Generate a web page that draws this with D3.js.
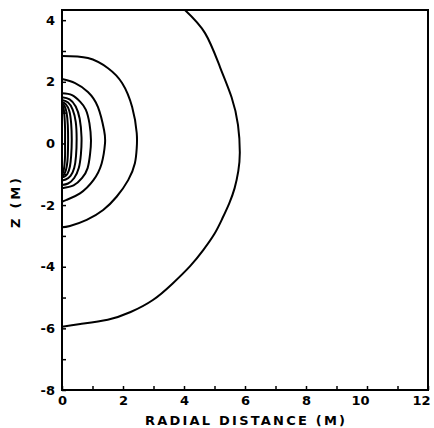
<!DOCTYPE html>
<html>
<head>
<meta charset="utf-8">
<script src="https://cdn.jsdelivr.net/npm/d3@7"></script>
<style>
  body { margin: 0; background: #fff; }
  text { font-family: "DejaVu Sans", sans-serif; font-weight: bold; fill: #000; }
</style>
</head>
<body>
<div id="chart"></div>
<script>
// Contour plot: radial distance vs Z, axisymmetric field lines

// Tick values
const xTicks = [0, 1, 2, 3, 4, 5, 6, 7, 8, 9, 10, 11, 12];
const yTicks = [-8, -7, -6, -5, -4, -3, -2, -1, 0, 1, 2, 3, 4];

// Contours, each as [r, z] points
const contourOuter = [[4.03, 4.33], [4.69, 3.58], [5.18, 2.48], [5.56, 1.5], [5.77, 0.6],
  [5.83, -0.3], [5.78, -0.9], [5.66, -1.45], [5.48, -1.95], [5.25, -2.45], [5.0, -2.93],
  [4.63, -3.46], [4.2, -3.98], [3.62, -4.55], [2.98, -5.08], [2.25, -5.47], [1.5, -5.72],
  [0.6, -5.86], [0, -5.95]];
const contour2 = [[0, 2.84], [0.85, 2.77], [1.51, 2.44], [1.97, 1.96], [2.30, 1.18], [2.45, 0.34],
  [2.45, -0.15], [2.39, -0.64], [2.17, -1.19], [1.79, -1.73], [1.35, -2.16], [0.81, -2.48],
  [0.26, -2.68], [0, -2.72]];
const contour3 = [[0, 2.09], [0.43, 1.96], [0.85, 1.67], [1.18, 1.18], [1.38, 0.43], [1.41, 0.0],
  [1.30, -0.65], [1.03, -1.19], [0.59, -1.62], [0.15, -1.83], [0, -1.9]];
const contour4 = [[0, 1.63], [0.33, 1.57], [0.6, 1.35], [0.78, 1.1], [0.9, 0.65], [0.95, 0.1],
  [0.92, -0.35], [0.84, -0.8], [0.66, -1.12], [0.38, -1.36], [0, -1.45]];
const contour5 = [[0, 1.5], [0.25, 1.43], [0.45, 1.2], [0.58, 0.8], [0.64, 0.2], [0.62, -0.35],
  [0.55, -0.8], [0.4, -1.12], [0.2, -1.3], [0, -1.35]];
const contour6 = [[0, 1.41], [0.2, 1.33], [0.35, 1.1], [0.45, 0.7], [0.48, 0.15], [0.46, -0.4],
  [0.4, -0.8], [0.28, -1.05], [0.12, -1.17], [0, -1.2]];
const contour7 = [[0, 1.35], [0.13, 1.27], [0.24, 1.05], [0.3, 0.65], [0.32, 0.1], [0.3, -0.4],
  [0.26, -0.75], [0.18, -0.98], [0.08, -1.08], [0, -1.1]];
const contour8 = [[0, 1.3], [0.08, 1.22], [0.15, 1.0], [0.19, 0.6], [0.2, 0.1], [0.19, -0.4],
  [0.16, -0.72], [0.1, -0.95], [0.04, -1.03], [0, -1.05]];
const contour9 = [[0, 1.25], [0.05, 1.15], [0.08, 0.9], [0.1, 0.5], [0.1, 0.05], [0.1, -0.4],
  [0.08, -0.7], [0.05, -0.9], [0, -1.0]];

const contours = [contourOuter, contour2, contour3, contour4, contour5, contour6, contour7, contour8, contour9];

// Chart dimensions
const width = 434;
const height = 428;
const marginTop = 10;
const marginRight = 6;
const marginBottom = 38;
const marginLeft = 62;

const svg = d3.select("#chart")
  .append("svg")
  .attr("width", width)
  .attr("height", height);

const x = d3.scaleLinear().domain([0, 12]).range([marginLeft, width - marginRight]);
const y = d3.scaleLinear().domain([-8, 4.33]).range([height - marginBottom, marginTop]);

// clip so curves stay in the box
svg.append("clipPath").attr("id", "clip")
  .append("rect")
  .attr("x", x(0)).attr("y", y(4.33))
  .attr("width", x(12) - x(0)).attr("height", y(-8) - y(4.33));

const line = d3.line()
  .x(d => x(d[0]))
  .y(d => y(d[1]))
  .curve(d3.curveNatural);

svg.append("g")
  .attr("clip-path", "url(#clip)")
  .selectAll("path")
  .data(contours)
  .enter()
  .append("path")
    .attr("d", line)
    .attr("fill", "none")
    .attr("stroke", "#000")
    .attr("stroke-width", 2);

// frame
svg.append("rect")
  .attr("x", x(0)).attr("y", y(4.33))
  .attr("width", x(12) - x(0)).attr("height", y(-8) - y(4.33))
  .attr("fill", "none")
  .attr("stroke", "#000")
  .attr("stroke-width", 2);

// axes, ticks point inward
const xAxis = svg.append("g")
  .attr("transform", "translate(0," + y(-8) + ")")
  .call(d3.axisBottom(x).tickValues(xTicks).tickSize(-4).tickPadding(6)
    .tickFormat(d => d % 2 === 0 ? d : ""));

// two-digit labels sit a little left of their tick
xAxis.selectAll(".tick text").attr("dx", d => d >= 10 ? -7 : 0);

const yAxis = svg.append("g")
  .attr("transform", "translate(" + x(0) + ",0)")
  .call(d3.axisLeft(y).tickValues(yTicks).tickSize(-4).tickPadding(7)
    .tickFormat(d => d % 2 === 0 ? String(d).replace("\u2212", "-") : ""));

[xAxis, yAxis].forEach(g => {
  g.select(".domain").remove();
  g.selectAll(".tick line").attr("stroke", "#000").attr("stroke-width", 1.5);
  g.selectAll(".tick text")
    .attr("font-size", 13)
    .attr("font-family", "DejaVu Sans")
    .attr("font-weight", "bold")
    .attr("fill", "#000");
});

// axis titles
svg.append("text")
  .attr("x", (x(0) + x(12)) / 2)
  .attr("y", 425)
  .attr("text-anchor", "middle")
  .attr("font-size", 13)
  .attr("textLength", 200)
  .attr("lengthAdjust", "spacing")
  .text("RADIAL DISTANCE (M)");

svg.append("text")
  .attr("transform", "translate(20,203) rotate(-90)")
  .attr("text-anchor", "middle")
  .attr("font-size", 13)
  .attr("textLength", 50)
  .attr("lengthAdjust", "spacing")
  .text("Z (M)");
</script>
</body>
</html>
